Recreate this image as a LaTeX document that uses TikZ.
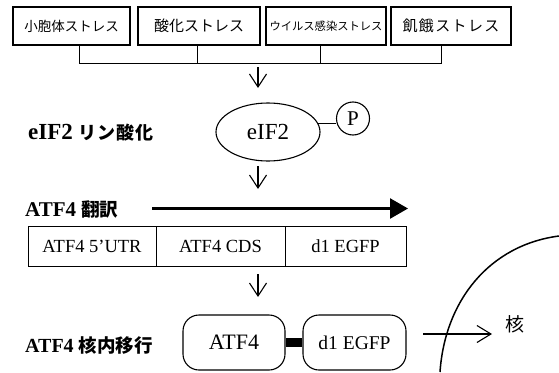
\documentclass[tikz,border=0pt]{standalone}
\usepackage{fontspec}
\setmainfont{Liberation Serif}
\newfontfamily\jp{Noto Sans CJK JP}
\usetikzlibrary{arrows.meta,shapes.geometric}
\begin{document}
\begin{tikzpicture}[x=1pt,y=-1pt,
  stressbox/.style={draw,line width=1.1pt,minimum height=38pt,inner sep=0pt},
  cell/.style={draw,line width=1pt,minimum height=40pt,inner sep=0pt,font=\fontsize{18.5}{18.5}\selectfont},
  rbox/.style={draw,line width=1.1pt,rounded corners=16pt,minimum height=55pt,inner sep=0pt},
  openarrow/.style={line width=1.1pt,-{Straight Barb[length=13pt,width=17pt]}},
  steplabel/.style={anchor=west,inner sep=0pt}]
\useasboundingbox (0,0) rectangle (559,372);
% stress boxes
\node[stressbox,minimum width=117pt,font=\jp\fontsize{13.5}{13.5}\selectfont] (b1) at (71.5,26) {小胞体ストレス};
\node[stressbox,minimum width=122pt,font=\jp\fontsize{15}{15}\selectfont] (b2) at (199,26) {酸化ストレス};
\node[stressbox,minimum width=120pt,font=\jp\fontsize{11.3}{11.3}\selectfont] (b3) at (326,26) {ウイルス感染ストレス};
\node[stressbox,minimum width=120pt,font=\jp\fontsize{15}{15}\selectfont\addfontfeatures{LetterSpace=9}] (b4) at (451,26) {飢餓ストレス};
\coordinate (bus) at (258,63);
\draw[line width=1pt] ([xshift=7.5pt]b1.south) |- ([xshift=-10pt]b4.south |- bus) -- ([xshift=-10pt]b4.south);
\draw[line width=1pt] ([xshift=-2pt]b2.south) -- ([xshift=-2pt]b2.south |- bus);
\draw[line width=1pt] ([xshift=-6pt]b3.south) -- ([xshift=-6pt]b3.south |- bus);
\coordinate (a1s) at (258,67);
\coordinate (a1e) at (258,88);
\draw[openarrow] (a1s) -- (a1e);
% eIF2
\node[steplabel,font=\fontsize{23}{23}\selectfont\bfseries] (l1) at (28,133) {eIF2 {\jp\fontsize{18}{18}\selectfont\addfontfeatures{LetterSpace=5}リン酸化}};
\node[draw,ellipse,line width=1.1pt,minimum width=104pt,minimum height=58pt,inner sep=0pt,font=\fontsize{23}{23}\selectfont] (e) at (268,132) {eIF2};
\node[draw,circle,line width=1.1pt,minimum size=33pt,inner sep=0pt,font=\fontsize{21}{21}\selectfont] (p) at (353,118.5) {P};
\draw[line width=1pt] (e.10) -- (e.10 -| p.west);
\coordinate (a2s) at (258,166);
\coordinate (a2e) at (258,189);
\draw[openarrow] (a2s) -- (a2e);
% translation
\node[steplabel,font=\fontsize{21}{21}\selectfont\bfseries] (l2) at (25,209) {ATF4 {\jp\fontsize{18.5}{18.5}\selectfont 翻訳}};
\coordinate (ts) at (152,208.5);
\coordinate (te) at (408,208.5);
\draw[line width=2.5pt,-{Triangle[length=18pt,width=20pt]}] (ts) -- (te);
\node[cell,minimum width=128pt] (u1) at (92,246) {ATF4 5’UTR};
\node[cell,minimum width=129pt] (u2) at (220.5,246) {ATF4 CDS};
\node[cell,minimum width=121pt] (u3) at (345.5,246) {d1 EGFP};
\coordinate (a3s) at (258,274);
\coordinate (a3e) at (258,297);
\draw[openarrow] (a3s) -- (a3e);
% nuclear translocation
\node[steplabel,font=\fontsize{20}{20}\selectfont\bfseries] (l3) at (25,346) {ATF4 {\jp\fontsize{18.5}{18.5}\selectfont 核内移行}};
\node[rbox,minimum width=102pt,font=\fontsize{22}{22}\selectfont] (r1) at (234,342.5) {ATF4};
\node[rbox,minimum width=103pt,font=\fontsize{19.5}{19.5}\selectfont] (r2) at (354.5,342.5) {d1 EGFP};
\draw[line width=9pt] (r1.east) -- (r2.west);
\coordinate (ns) at (423,334);
\coordinate (ne) at (492,334);
\draw[openarrow,-{Straight Barb[length=14pt,width=17pt]}] (ns) -- (ne);
\node[font=\jp\fontsize{19}{19}\selectfont,inner sep=0pt] (nuc) at (515,324) {核};
\draw[line width=1.5pt] (440,372) .. controls (445,300) and (490,245) .. (559,236);
\end{tikzpicture}
\end{document}
